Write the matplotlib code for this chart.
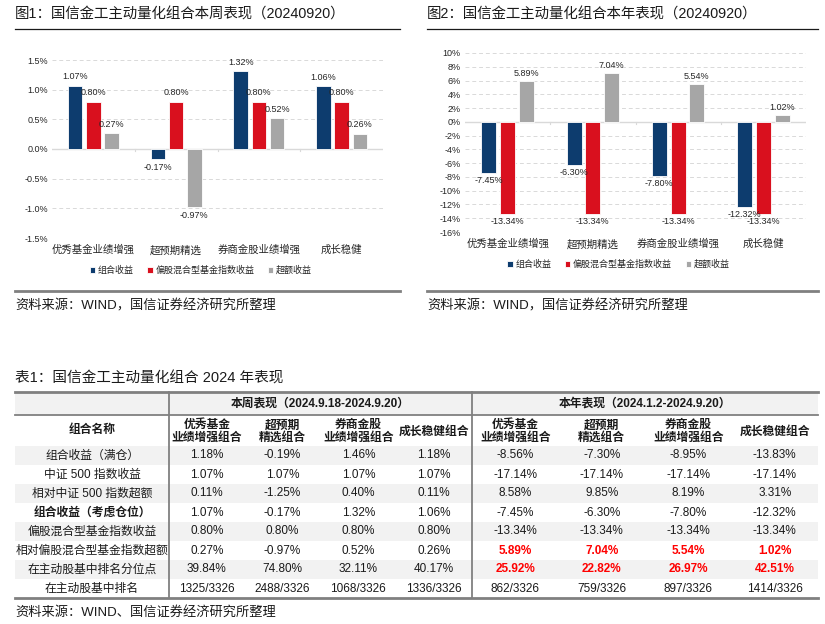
import matplotlib
matplotlib.use("Agg")
import matplotlib.pyplot as plt
import numpy as np
from matplotlib.patches import Rectangle

plt.rcParams['font.family'] = ['Liberation Sans', 'Noto Sans CJK SC', 'DejaVu Sans']
plt.rcParams['axes.unicode_minus'] = False

NAVY = "#0d3c6e"
RED = "#d9101e"
GRAY = "#a6a6a6"
GRID = "#d9d9d9"
LINE = "#808080"

# ---------------- chart data ----------------
categories = ["优秀基金业绩增强", "超预期精选", "券商金股业绩增强", "成长稳健"]
series_names = ["组合收益", "偏股混合型基金指数收益", "超额收益"]

week_portfolio = [1.07, -0.17, 1.32, 1.06]
week_index = [0.80, 0.80, 0.80, 0.80]
week_excess = [0.27, -0.97, 0.52, 0.26]

year_portfolio = [-7.45, -6.30, -7.80, -12.32]
year_index = [-13.34, -13.34, -13.34, -13.34]
year_excess = [5.89, 7.04, 5.54, 1.02]

week_ticks = [-1.5, -1.0, -0.5, 0.0, 0.5, 1.0, 1.5]
year_ticks = list(range(-16, 11, 2))

# ---------------- table data ----------------
row_names = ["组合收益（满仓）", "中证 500 指数收益", "相对中证 500 指数超额",
             "组合收益（考虑仓位）", "偏股混合型基金指数收益", "相对偏股混合型基金指数超额",
             "在主动股基中排名分位点", "在主动股基中排名"]
col_headers = ["优秀基金\n业绩增强组合", "超预期\n精选组合", "券商金股\n业绩增强组合", "成长稳健组合"]
week_table = [
    ["1.18%", "-0.19%", "1.46%", "1.18%"],
    ["1.07%", "1.07%", "1.07%", "1.07%"],
    ["0.11%", "-1.25%", "0.40%", "0.11%"],
    ["1.07%", "-0.17%", "1.32%", "1.06%"],
    ["0.80%", "0.80%", "0.80%", "0.80%"],
    ["0.27%", "-0.97%", "0.52%", "0.26%"],
    ["39.84%", "74.80%", "32.11%", "40.17%"],
    ["1325/3326", "2488/3326", "1068/3326", "1336/3326"],
]
year_table = [
    ["-8.56%", "-7.30%", "-8.95%", "-13.83%"],
    ["-17.14%", "-17.14%", "-17.14%", "-17.14%"],
    ["8.58%", "9.85%", "8.19%", "3.31%"],
    ["-7.45%", "-6.30%", "-7.80%", "-12.32%"],
    ["-13.34%", "-13.34%", "-13.34%", "-13.34%"],
    ["5.89%", "7.04%", "5.54%", "1.02%"],
    ["25.92%", "22.82%", "26.97%", "42.51%"],
    ["862/3326", "759/3326", "897/3326", "1414/3326"],
]

fig = plt.figure(figsize=(8.25, 6.24), dpi=100)
W, H = 825, 624

# overlay axes in pixel coordinates for titles, rules and the table
ov = fig.add_axes([0, 0, 1, 1])
ov.set_xlim(0, W)
ov.set_ylim(H, 0)
ov.axis("off")


def bar_chart(rect, data, ticks, offset_label):
    ax = fig.add_axes(rect)
    x = np.arange(len(categories))
    colors = [NAVY, RED, GRAY]
    for k, (vals, c) in enumerate(zip(data, colors)):
        xs = x + (k - 1) * 0.22
        ax.bar(xs, vals, width=0.175, color=c, edgecolor="white", linewidth=0.6,
               label=series_names[k], zorder=3)
        for xi, v in zip(xs, vals):
            if v >= 0:
                ax.text(xi, v + offset_label, f"{v:.2f}%", ha="center", va="bottom",
                        fontsize=6.5, color="#262626", zorder=4)
            else:
                ax.text(xi, v - offset_label, f"{v:.2f}%", ha="center", va="top",
                        fontsize=6.5, color="#262626", zorder=4)
    ax.set_ylim(ticks[0], ticks[-1])
    ax.set_xlim(-0.5, len(categories) - 0.5)
    ax.set_yticks(ticks)
    ax.set_yticklabels([(f"{t:.1f}%" if isinstance(t, float) else f"{t}%") for t in ticks],
                       fontsize=6.5, color="#262626")
    for t in ticks:
        if t != 0:
            ax.axhline(t, color=GRID, linestyle=(0, (4, 3)), linewidth=0.7, zorder=1)
    ax.axhline(0, color=GRID, linewidth=1.0, zorder=2)
    for b in np.arange(0.5, len(categories) - 1, 1.0):
        ax.plot([b, b], [0, -(ticks[-1] - ticks[0]) * 0.012], color=GRID, linewidth=0.8,
                zorder=2, clip_on=False)
    ax.set_xticks(x)
    ax.set_xticklabels(categories, fontsize=7.5, color="#262626")
    ax.tick_params(axis="both", length=0, pad=3)
    ax.tick_params(axis="x", pad=5)
    for s in ax.spines.values():
        s.set_visible(False)
    ax.patch.set_alpha(0)
    leg = ax.legend(loc="upper center", bbox_to_anchor=(0.45, -0.11), ncol=3, frameon=False,
                    fontsize=6.5, handlelength=0.6, handleheight=0.6, handletextpad=0.3,
                    columnspacing=1.5)
    for t in leg.get_texts():
        t.set_color("#262626")
    return ax


bar_chart([52 / W, 1 - 238 / H, 331 / W, 178 / H],
          [week_portfolio, week_index, week_excess], week_ticks, 0.07)
bar_chart([465 / W, 1 - 232 / H, 341 / W, 179 / H],
          [year_portfolio, year_index, year_excess], year_ticks, 0.45)

# chart titles, rules and sources
for x0, x1, title in [(15, 400, "图1：国信金工主动量化组合本周表现（20240920）"),
                      (427, 818, "图2：国信金工主动量化组合本年表现（20240920）")]:
    ov.text(x0, 15, title, fontsize=10.4, va="center", ha="left", color="#1a1a1a")
    ov.plot([x0, x1], [29, 29], color="#1a1a1a", linewidth=0.9)
    ov.plot([x0, x1], [291, 291], color=LINE, linewidth=2.0)
    ov.text(x0, 306, "资料来源：WIND，国信证券经济研究所整理", fontsize=9.5, va="center",
            ha="left", color="#1a1a1a")

# ---------------- table ----------------
ov.text(15, 378, "表1：国信金工主动量化组合 2024 年表现", fontsize=10.5, va="center", ha="left",
        color="#1a1a1a")

tl, tr = 15, 818
y_top, y_h1, y_h2 = 392, 415, 446
row_h = (598 - y_h2) / len(row_names)
xdiv1, xdiv2 = 169, 472
week_centers = np.linspace(xdiv1, xdiv2, 5)
week_centers = (week_centers[:-1] + week_centers[1:]) / 2
year_centers = np.linspace(xdiv2, tr, 5)
year_centers = (year_centers[:-1] + year_centers[1:]) / 2
y_bot = y_h2 + row_h * len(row_names)

ov.add_patch(Rectangle((tl, y_top), tr - tl, y_h1 - y_top, color="#f2f2f2", lw=0))
for i in range(len(row_names)):
    if i % 2 == 0:
        ov.add_patch(Rectangle((tl, y_h2 + i * row_h), tr - tl, row_h, color="#f2f2f2", lw=0))

ov.plot([tl, tr], [y_top, y_top], color=LINE, linewidth=2.0)
ov.plot([tl, tr], [y_h1, y_h1], color=LINE, linewidth=1.3)
ov.plot([tl, tr], [y_bot, y_bot], color=LINE, linewidth=2.0)
for xd in (xdiv1, xdiv2):
    ov.plot([xd, xd], [y_top, y_bot], color=LINE, linewidth=1.3)

fs = 8.5
ov.text((xdiv1 + xdiv2) / 2, (y_top + y_h1) / 2, "本周表现（2024.9.18-2024.9.20）",
        fontsize=fs, fontweight="bold", ha="center", va="center", color="#1a1a1a")
ov.text((xdiv2 + tr) / 2, (y_top + y_h1) / 2, "本年表现（2024.1.2-2024.9.20）",
        fontsize=fs, fontweight="bold", ha="center", va="center", color="#1a1a1a")
ov.text((tl + xdiv1) / 2, (y_h1 + y_h2) / 2, "组合名称", fontsize=fs, fontweight="bold",
        ha="center", va="center", color="#1a1a1a")
for cx_list in (week_centers, year_centers):
    for cx, h in zip(cx_list, col_headers):
        ov.text(cx, (y_h1 + y_h2) / 2 + 1, h, fontsize=fs, fontweight="bold", ha="center",
                va="center", linespacing=1.05, color="#1a1a1a")

for i, name in enumerate(row_names):
    cy = y_h2 + (i + 0.5) * row_h
    bold = "bold" if i == 3 else "normal"
    ov.text((tl + xdiv1) / 2, cy, name, fontsize=fs, fontweight=bold, ha="center",
            va="center", color="#1a1a1a")
    for cx, v in zip(week_centers, week_table[i]):
        ov.text(cx, cy, v, fontsize=fs, ha="center", va="center", color="#1a1a1a")
    for cx, v in zip(year_centers, year_table[i]):
        hi = i in (5, 6)
        ov.text(cx, cy, v, fontsize=fs, ha="center", va="center",
                color="#ff0000" if hi else "#1a1a1a", fontweight="bold" if hi else "normal")

ov.text(15, 612, "资料来源：WIND、国信证券经济研究所整理", fontsize=9.5, va="center", ha="left",
        color="#1a1a1a")

fig.savefig("out.png", dpi=100)
